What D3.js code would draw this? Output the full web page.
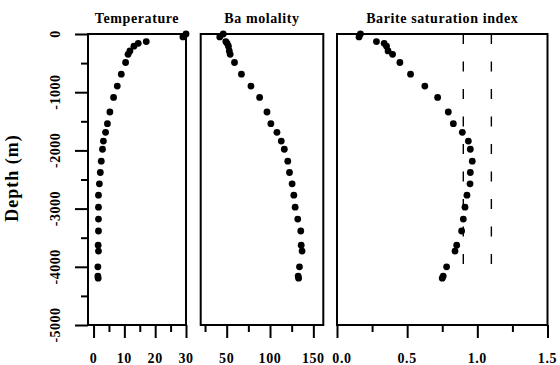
<!DOCTYPE html>
<html>
<head>
<meta charset="utf-8">
<script src="https://cdn.jsdelivr.net/npm/d3@7"></script>
<style>
  body { margin: 0; background: #fff; }
  svg { display: block; }
  text { font-family: "Liberation Serif", "Times New Roman", serif; font-weight: bold; fill: #000; }
</style>
</head>
<body>
<svg id="chart" width="560" height="365"></svg>
<script>
// sample depths (m), shared by all three profiles
const depth = [0, -50, -130, -160, -210, -290, -350, -490, -690, -895, -1090, -1340, -1540, -1690,
  -1840, -1980, -2185, -2380, -2575, -2770, -2975, -3180, -3385, -3630, -3730, -4000, -4160, -4195]

const temperature = [30, 29, 17.1, 14.5, 13.1, 11.8, 11.2, 10.4, 9.0, 7.7, 6.5, 5.3, 4.5, 3.9,
  3.2, 2.9, 2.5, 2.2, 1.9, 1.6, 1.6, 1.6, 1.6, 1.5, 1.6, 1.4, 1.4, 1.5]

const baMolality = [46, 42, 49, 50.5, 52, 53, 54, 59, 67, 78, 88, 96.5, 101, 108,
  113, 116.5, 120.5, 122.5, 125.5, 127.5, 129, 132, 135.5, 136, 137, 134, 132.5, 133]

const bariteSI = [0.167, 0.157, 0.281, 0.336, 0.353, 0.364, 0.396, 0.448, 0.524, 0.626, 0.717, 0.793, 0.829, 0.893,
  0.936, 0.950, 0.964, 0.950, 0.948, 0.926, 0.912, 0.900, 0.888, 0.853, 0.841, 0.781, 0.757, 0.75]

// saturation band drawn as dashed lines, from surface to about -3980 m
const saturationBounds = [0.9, 1.1]
const saturationDepth = [0, -3980]

const depthMajor = [0, -1000, -2000, -3000, -4000, -5000]
const depthMinor = [-500, -1500, -2500, -3500, -4500]

const tempMajor = [0, 10, 20, 30]
const tempMinor = [5, 15, 25]
const baMajor = [50, 100, 150]
const baMinor = [25, 75, 125]
const siMajor = [0, 0.5, 1.0, 1.5]
const siMinor = [0.25, 0.75, 1.25]
const siLabels = ["0.0", "0.5", "1.0", "1.5"]

const TOP = 34, BOTTOM = 325

const svg = d3.select("#chart")

const y = d3.scaleLinear().domain([0, -5000]).range([TOP, BOTTOM])

const panels = [
  { title: "Temperature", values: temperature, domain: [-1.8, 30], range: [88, 186],
    major: tempMajor, minor: tempMinor, labels: tempMajor.map(String) },
  { title: "Ba molality", values: baMolality, domain: [20, 161.5], range: [200.7, 323.3],
    major: baMajor, minor: baMinor, labels: baMajor.map(String) },
  { title: "Barite saturation index", values: bariteSI, domain: [0, 1.5], range: [337, 547.5],
    major: siMajor, minor: siMinor, labels: siLabels }
]

panels.forEach((p, pi) => {
  const x = d3.scaleLinear().domain(p.domain).range(p.range)
  const g = svg.append("g")

  // frame
  g.append("rect")
    .attr("x", p.range[0])
    .attr("y", TOP)
    .attr("width", p.range[1] - p.range[0])
    .attr("height", BOTTOM - TOP)
    .attr("fill", "none")
    .attr("stroke", "#000")
    .attr("stroke-width", 2)

  // bottom ticks
  const axMajor = g.append("g")
    .attr("transform", `translate(0,${BOTTOM})`)
    .call(d3.axisBottom(x).tickValues(p.major).tickSize(13).tickFormat(""))
  const axMinor = g.append("g")
    .attr("transform", `translate(0,${BOTTOM})`)
    .call(d3.axisBottom(x).tickValues(p.minor).tickSize(7).tickFormat(""))
  ;[axMajor, axMinor].forEach(a => {
    a.select(".domain").remove()
    a.selectAll("line").attr("stroke", "#000").attr("stroke-width", 2)
  })

  g.selectAll("text.xlab")
    .data(p.major)
    .join("text")
    .attr("class", "xlab")
    .attr("x", (d, i) => x(d) + (pi === 2 && i === 0 ? 5 : 0))
    .attr("y", 362.5)
    .attr("text-anchor", "middle")
    .style("font-size", "14px")
    .style("letter-spacing", "0.6px")
    .text((d, i) => p.labels[i])

  // title
  g.append("text")
    .attr("x", (p.range[0] + p.range[1]) / 2)
    .attr("y", 23)
    .attr("text-anchor", "middle")
    .style("font-size", "14px")
    .style("letter-spacing", "0.6px")
    .text(p.title)

  // saturation band
  if (pi === 2) {
    g.selectAll("line.sat")
      .data(saturationBounds)
      .join("line")
      .attr("class", "sat")
      .attr("x1", d => x(d))
      .attr("x2", d => x(d))
      .attr("y1", y(saturationDepth[0]))
      .attr("y2", y(saturationDepth[1]))
      .attr("stroke", "#000")
      .attr("stroke-width", 1.4)
      .attr("stroke-dasharray", "10,17.5")
  }

  // points
  g.selectAll("circle")
    .data(p.values)
    .join("circle")
    .attr("cx", d => x(d))
    .attr("cy", (d, i) => y(depth[i]))
    .attr("r", 3.4)
    .attr("fill", "#000")
})

// depth axis on the first panel
const yMajor = svg.append("g")
  .attr("transform", "translate(88,0)")
  .call(d3.axisLeft(y).tickValues(depthMajor).tickSize(13).tickFormat(""))
const yMinor = svg.append("g")
  .attr("transform", "translate(88,0)")
  .call(d3.axisLeft(y).tickValues(depthMinor).tickSize(7).tickFormat(""))
;[yMajor, yMinor].forEach(a => {
  a.select(".domain").remove()
  a.selectAll("line").attr("stroke", "#000").attr("stroke-width", 2)
})

svg.selectAll("text.ylab")
  .data(depthMajor)
  .join("text")
  .attr("class", "ylab")
  .attr("transform", d => `translate(60,${y(d)}) rotate(-90)`)
  .attr("text-anchor", "middle")
  .style("font-size", "14px")
  .style("letter-spacing", "0.5px")
  .text(d => d)

svg.append("text")
  .attr("transform", "translate(18,178) rotate(-90)")
  .attr("text-anchor", "middle")
  .style("font-size", "18px")
  .style("letter-spacing", "1px")
  .text("Depth (m)")
</script>
</body>
</html>
